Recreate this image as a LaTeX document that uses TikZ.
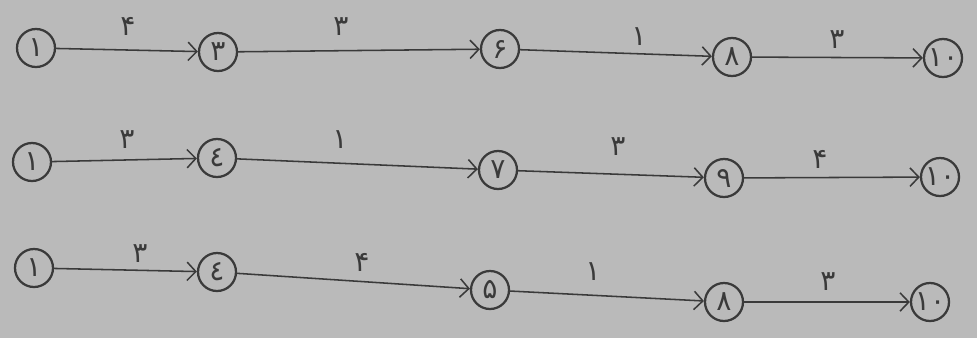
\documentclass[tikz,border=0pt]{standalone}
\usepackage{fontspec}
\newfontfamily\farsi[Script=Arabic]{DejaVu Sans}
\usetikzlibrary{arrows.meta,positioning}
\definecolor{paper}{RGB}{186,186,186}
\definecolor{pencil}{RGB}{58,58,58}

\begin{document}
\begin{tikzpicture}[
  x=0.025cm, y=-0.025cm,
  every node/.style={font=\farsi\fontsize{20}{20}\selectfont, text=pencil},
  event/.style={circle, draw=pencil, line width=1.6pt, minimum size=0.95cm, inner sep=0pt},
  task/.style={draw=pencil, line width=1.1pt, -{Straight Barb[length=2.2mm,width=4.6mm,line width=1.1pt]}},
  dur/.style={inner sep=1pt}
]
\fill[paper] (0,0) rectangle (977,338);

% first path
\node[event] (a1) at (36,48) {۱};
\node[event] (a3) at (218,52) {۳};
\node[event] (a6) at (500,49) {۶};
\node[event] (a8) at (732,57) {۸};
\node[event] (a10) at (943,58) {۱۰};
\draw[task] (a1) -- (a3);
\draw[task] (a3) -- (a6);
\draw[task] (a6) -- (a8);
\draw[task] (a8) -- (a10);
\node[dur] (d13) at (128,26) {۴};
\node[dur] (d36) at (341,27) {۳};
\node[dur] (d68) at (639,37) {۱};
\node[dur] (d810) at (837,40) {۳};

% second path
\node[event] (b1) at (32,162) {۱};
\node[event] (b4) at (217,158) {٤};
\node[event] (b7) at (498,170) {۷};
\node[event] (b9) at (724,178) {۹};
\node[event] (b10) at (940,177) {۱۰};
\draw[task] (b1) -- (b4);
\draw[task] (b4) -- (b7);
\draw[task] (b7) -- (b9);
\draw[task] (b9) -- (b10);
\node[dur] (e14) at (127,140) {۳};
\node[dur] (e47) at (340,140) {۱};
\node[dur] (e79) at (618,147) {۳};
\node[dur] (e910) at (820,159) {۴};

% third path
\node[event] (c1) at (34,268) {۱};
\node[event] (c4) at (217,272) {٤};
\node[event] (c5) at (490,290) {۵};
\node[event] (c8) at (724,302) {۸};
\node[event] (c10) at (930,302) {۱۰};
\draw[task] (c1) -- (c4);
\draw[task] (c4) -- (c5);
\draw[task] (c5) -- (c8);
\draw[task] (c8) -- (c10);
\node[dur] (f14) at (140,254) {۳};
\node[dur] (f45) at (362,262) {۴};
\node[dur] (f58) at (593,272) {۱};
\node[dur] (f810) at (828,282) {۳};
\end{tikzpicture}
\end{document}
